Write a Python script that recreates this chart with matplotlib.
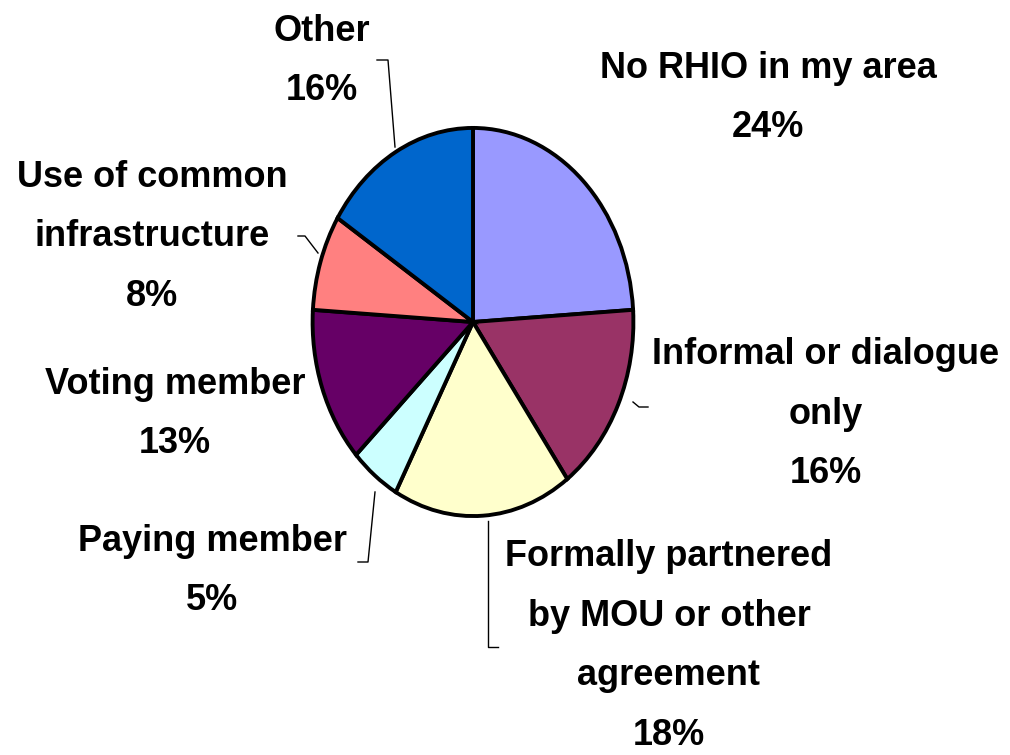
import matplotlib.pyplot as plt

plt.rcParams['font.family'] = ['Liberation Sans', 'DejaVu Sans']

labels = ['No RHIO in my area', 'Informal or dialogue\nonly',
          'Formally partnered\nby MOU or other\nagreement', 'Paying member',
          'Voting member', 'Use of common\ninfrastructure', 'Other']
shares = [24, 16, 18, 5, 13, 8, 16]
colors = ['#9999FF', '#993366', '#FFFFCC', '#CCFFFF', '#660066', '#FF8080', '#0066CC']

W, H = 1010, 755
fig = plt.figure(figsize=(W / 100, H / 100), dpi=100)

# pie is stretched vertically in the original, so use a non-square axes
cx, cy, rx, ry = 473, 322, 162, 196
ax = fig.add_axes([(cx - rx) / W, (H - cy - ry) / H, 2 * rx / W, 2 * ry / H])
ax.pie(shares, colors=colors, startangle=90, counterclock=False,
       wedgeprops=dict(edgecolor='black', linewidth=2.8))
ax.set_aspect('auto')
ax.set_xlim(-1.01, 1.01)
ax.set_ylim(-1.01, 1.01)
ax.axis('off')

# overlay in pixel coordinates for labels and leader lines
ov = fig.add_axes([0, 0, 1, 1])
ov.set_xlim(0, W)
ov.set_ylim(H, 0)
ov.axis('off')
ov.patch.set_alpha(0)

label_pos = [(768, 98), (826, 414), (669, 646), (212, 571), (175, 414), (152, 237), (322, 61)]
for lab, s, (x, y) in zip(labels, shares, label_pos):
    ov.text(x, y, f'{lab}\n{s}%', ha='center', va='center', fontsize=26,
            fontweight='bold', linespacing=1.92)

leaders = [
    [(395, 147), (388, 60), (377, 60)],
    [(318, 253), (305, 236), (298, 236)],
    [(633, 402), (639, 407), (648, 407)],
    [(375, 492), (368, 562), (358, 562)],
    [(488, 521), (488, 647), (498, 647)],
]
for pts in leaders:
    xs, ys = zip(*pts)
    ov.plot(xs, ys, color='black', linewidth=1)

fig.savefig('out.png', dpi=100, facecolor='white')
